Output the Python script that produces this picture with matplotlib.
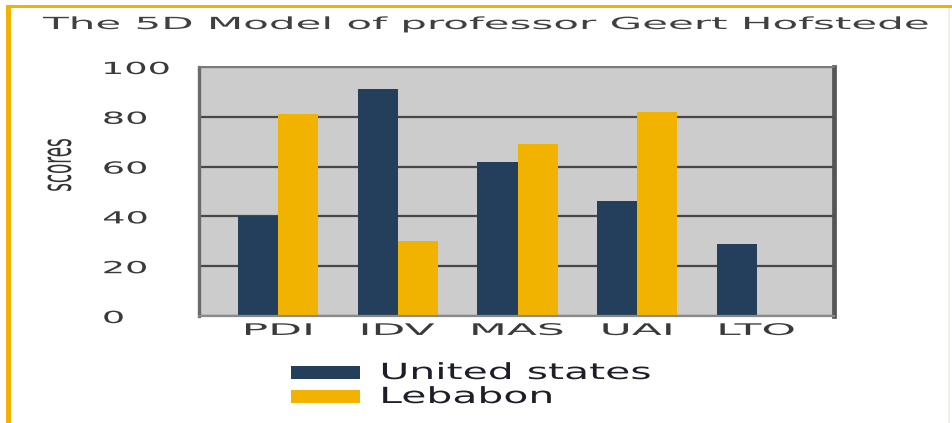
import numpy as np
import matplotlib
matplotlib.use("Agg")
import matplotlib.pyplot as plt
from matplotlib.patches import Rectangle
from matplotlib.patheffects import AbstractPathEffect
from matplotlib.transforms import Affine2D


# --------------------------------------------------
# Data
# --------------------------------------------------

dimensions = ["PDI", "IDV", "MAS", "UAI", "LTO"]
us_scores = [40, 91, 62, 46, 29]
lebanon_scores = [81, 30, 69, 82, 0]
series_names = ["United states", "Lebabon"]

yticks = [0, 20, 40, 60, 80, 100]
ytick_labels = ["0", "20", "40", "60", "80", "100"]

title = "The 5D Model of professor Geert Hofstede"

NAVY = "#233f5c"
GOLD = "#f2b300"
PANEL = "#cccccc"


# --------------------------------------------------
# Wide lettering: stretch glyphs horizontally
# --------------------------------------------------

class Stretch(AbstractPathEffect):

    def __init__(self, sx, anchor="left"):
        super().__init__()
        self.sx = sx
        self.anchor = anchor

    def draw_path(self, renderer, gc, tpath, affine, rgbFace=None):
        box = tpath.get_extents(affine)
        if self.anchor == "center":
            x0 = (box.x0 + box.x1) / 2
        elif self.anchor == "right":
            x0 = box.x1
        else:
            x0 = box.x0
        t = affine + Affine2D().translate(-x0, 0).scale(self.sx, 1).translate(x0, 0)
        renderer.draw_path(gc, tpath, t, rgbFace)


plt.rcParams["font.family"] = ["DejaVu Sans"]

W, H = 952, 423
fig = plt.figure(figsize=(W / 100, H / 100), dpi=100)
fig.patch.set_facecolor("white")

ax = fig.add_axes([199 / W, 1 - 316 / H, (834 - 199) / W, (316 - 67) / H])
ax.set_facecolor(PANEL)

# --------------------------------------------------
# Bars
# --------------------------------------------------

x = np.arange(len(dimensions))
bw = 0.335

ax.bar(x - bw / 2, us_scores, bw, color=NAVY, label=series_names[0])
ax.bar(x + bw / 2, lebanon_scores, bw, color=GOLD, label=series_names[1])

ax.set_xlim(-0.664, 4.647)
ax.set_ylim(0, 100)

ax.set_axisbelow(True)
ax.yaxis.grid(True, color="#474747", linewidth=1.6)

# spines
ax.spines["left"].set_color("#6a6a6a")
ax.spines["left"].set_linewidth(2.4)
ax.spines["right"].set_color("#555555")
ax.spines["right"].set_linewidth(3.4)
ax.spines["top"].set_color("#7a7a7a")
ax.spines["top"].set_linewidth(1.4)
ax.spines["bottom"].set_color("#8a8a8a")
ax.spines["bottom"].set_linewidth(1.6)

# ticks
ax.set_xticks(
    x,
    dimensions,
    fontsize=11.5,
    color="#3a3a3a",
    path_effects=[Stretch(2.75, "center")]
)
ax.set_yticks(
    yticks,
    ytick_labels,
    fontsize=12,
    color="#3a3a3a",
    ha="left",
    path_effects=[Stretch(2.2, "left")]
)
ax.tick_params(axis="x", length=0, pad=5)
ax.tick_params(axis="y", length=0, pad=69)

# nudge category labels slightly left of the group centres
for lbl in ax.get_xticklabels():
    lbl.set_x(lbl.get_position()[0] - 0.04)

ax.set_ylabel(
    "scores",
    fontsize=12,
    color="#333333",
    va="center",
    path_effects=[Stretch(2.5, "center")]
)
ax.yaxis.set_label_coords((59 - 199) / 635, (316 - 165) / 249)

# --------------------------------------------------
# Title
# --------------------------------------------------

fig.text(
    43 / W,
    1 - 29 / H,
    title,
    fontsize=12,
    color="#404040",
    ha="left",
    va="baseline",
    path_effects=[Stretch(2.52, "left")]
)

# --------------------------------------------------
# Legend (drawn by hand under the axes)
# --------------------------------------------------

for i, (name, col) in enumerate(zip(series_names, [NAVY, GOLD])):
    top = 366 + i * 24
    fig.add_artist(Rectangle(
        (291 / W, 1 - (top + 13) / H),
        69 / W,
        13 / H,
        transform=fig.transFigure,
        facecolor=col,
        edgecolor="none"
    ))
    fig.text(
        381 / W,
        1 - (top + 13) / H,
        name,
        fontsize=16,
        color="#1e1e2a",
        ha="left",
        va="baseline",
        path_effects=[Stretch(1.84, "left")]
    )

# --------------------------------------------------
# Orange frame along the top and left edges
# --------------------------------------------------

fig.add_artist(Rectangle(
    (6 / W, 1 - 8 / H), 1 - 6 / W, 3 / H,
    transform=fig.transFigure, facecolor=GOLD, edgecolor="none"
))
fig.add_artist(Rectangle(
    (6 / W, 0), 5 / W, 1 - 5 / H,
    transform=fig.transFigure, facecolor=GOLD, edgecolor="none"
))
fig.add_artist(Rectangle(
    (948 / W, 0), 2 / W, 1 - 8 / H,
    transform=fig.transFigure, facecolor="#f0eeea", edgecolor="none"
))

fig.savefig("out.png", dpi=100)
plt.close(fig)
